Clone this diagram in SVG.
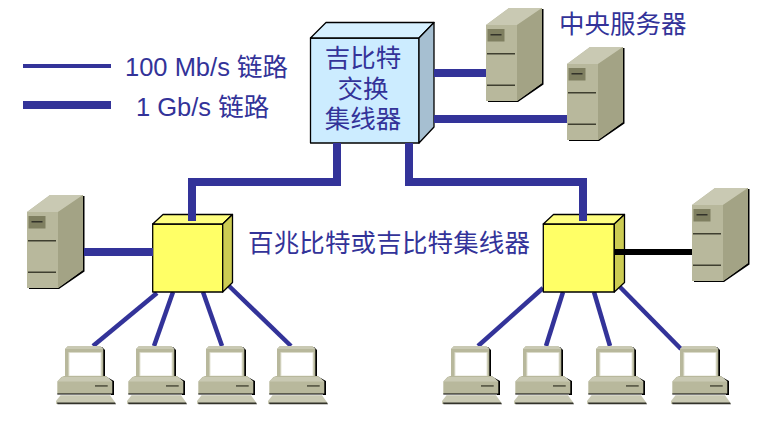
<svg xmlns="http://www.w3.org/2000/svg" width="768" height="444" viewBox="0 0 768 444">
<style>
text{font-family:"Liberation Sans","Noto Sans CJK SC",sans-serif;fill:#333399;font-size:25.500px}
.c{font-family:"Noto Sans CJK SC",sans-serif;font-size:25.500px}
.m{text-anchor:middle}
.l{fill:none;stroke:#333399;stroke-linejoin:miter}
.t{stroke-width:4.500}.g{stroke-width:4}.k{stroke-width:8}
.e{stroke:#000;stroke-width:1.300;stroke-linejoin:round}
</style>
<defs>
<g id="server">
<path d="M2 77H32L57.500 59.500V-16H55V58L31 75H2Z" fill="#000"/>
<path d="M0 0L23 -17H56V58L31 76H0Z" fill="#B8B89C"/>
<path d="M0 0L23 -17H56L31 0Z" fill="#C9C9B3"/>
<path d="M31 0L56 -17V58L31 76Z" fill="#A3A385"/>
<rect x="1.500" y="4" width="17" height="12.500" fill="#7F7F60"/>
<rect x="4.500" y="9" width="11" height="1.500" fill="#33332A"/>
<rect x="1" y="28" width="28" height="1.500" fill="#3F3F30"/>
<rect x="1" y="59.500" width="28" height="1.500" fill="#3F3F30"/>
</g>
<g id="pc">
<path d="M2 1H37L40 4V34H2Z" fill="#000"/>
<path d="M3 0H35L38.300 3V33H0V3Z" fill="#B8B89C"/>
<path d="M3 0H35L38.300 3H0Z" fill="#C9C9B3"/>
<rect x="3.500" y="6.200" width="33" height="24" fill="#E4E4D6"/>
<rect x="4.500" y="7" width="31" height="22.500" fill="#fff"/>
<path d="M0 30H38L46 35V49L49 49V35L40 30Z" fill="#000"/>
<path d="M-3.500 31L-1 30H41L47.300 35.500V48H-7.700V35.500Z" fill="#B8B89C"/>
<path d="M-7.700 35.500L-2.500 31H42L47.300 35.500Z" fill="#C9C9B3"/>
<path d="M-7.700 47.500H48V48.500H-7.700Z" fill="#000"/>
<rect x="30" y="39" width="12.700" height="1.800" fill="#5F5F4C"/>
<path d="M-4.500 49.300H45L50 56.300V58H-9V55Z" fill="#C9C9B3"/>
<path d="M-8 56.500H50L51 58.300H-7.500Z" fill="#33332A"/>
</g>
</defs>
<rect width="768" height="444" fill="#fff"/>
<g id="connectors">
<path class="l g" d="M23 66H111"/>
<path class="l k" d="M23 105H111"/>
<path class="l t" d="M157 293L93 346"/>
<path class="l t" d="M173 292L154 346"/>
<path class="l t" d="M203 292L222 346"/>
<path class="l t" d="M228 285L291 346"/>
<path class="l t" d="M543 288L478 346"/>
<path class="l t" d="M563 292L546 346"/>
<path class="l t" d="M594 292L610 346"/>
<path class="l t" d="M620 287L681 349"/>
</g>
<g id="legend-text">
<text x="125" y="76">100 Mb/s 链路</text>
<text x="136" y="116">1 Gb/s 链路</text>
</g>
<g id="switch">
<path class="e" fill="#CCECFF" d="M310.500 38H419V143H310.500Z"/>
<path class="e" fill="#D6F0FF" d="M310.500 38L326 22.500H434L419 38Z"/>
<path class="e" fill="#A6BFD1" d="M419 38L434 22.500V127L419 143Z"/>
<text class="c m" x="363" y="67">吉比特</text>
<text class="c m" x="363" y="98">交换</text>
<text class="c m" x="363" y="128">集线器</text>
</g>
<g id="server-1"><use href="#server" x="486" y="25"/></g>
<g id="server-2"><use href="#server" x="567" y="64"/></g>
<g id="server-3"><use href="#server" x="27" y="212"/></g>
<g id="server-4"><use href="#server" x="692" y="205"/></g>
<g id="hub-1">
<path class="e" fill="#FFFF66" d="M152.700 224H222.700V292H152.700Z"/>
<path class="e" fill="#FFFF80" d="M152.700 224L163 214.500H232.500L222.700 224Z"/>
<path class="e" fill="#CCCC52" d="M222.700 224L232.500 214.500V282.500L222.700 292Z"/>
</g>
<g id="hub-2">
<path class="e" fill="#FFFF66" d="M543.300 224H614.300V292H543.300Z"/>
<path class="e" fill="#FFFF80" d="M543.300 224L553.500 214.500H624.500L614.300 224Z"/>
<path class="e" fill="#CCCC52" d="M614.300 224L624.500 214.500V282.500L614.300 292Z"/>
</g>
<g id="pc-1"><use href="#pc" x="65" y="346"/></g>
<g id="pc-2"><use href="#pc" x="136" y="346"/></g>
<g id="pc-3"><use href="#pc" x="206" y="346"/></g>
<g id="pc-4"><use href="#pc" x="277" y="346"/></g>
<g id="pc-5"><use href="#pc" x="451" y="346"/></g>
<g id="pc-6"><use href="#pc" x="523" y="346"/></g>
<g id="pc-7"><use href="#pc" x="596" y="346"/></g>
<g id="pc-8"><use href="#pc" x="680" y="346"/></g>
<g id="connectors-thick">
<path class="l k" d="M337 143V182H192V221"/>
<path class="l k" d="M409 143V182H583V221"/>
<path class="l k" d="M434 73H486"/>
<path class="l k" d="M434 119H567"/>
<path class="l k" d="M84 252H153"/>
<path d="M615 252H692" fill="none" stroke="#000" stroke-width="6"/>
</g>
<g id="labels">
<text class="c" x="559" y="33">中央服务器</text>
<text class="c" x="248" y="252" textLength="282">百兆比特或吉比特集线器</text>
</g>
</svg>
